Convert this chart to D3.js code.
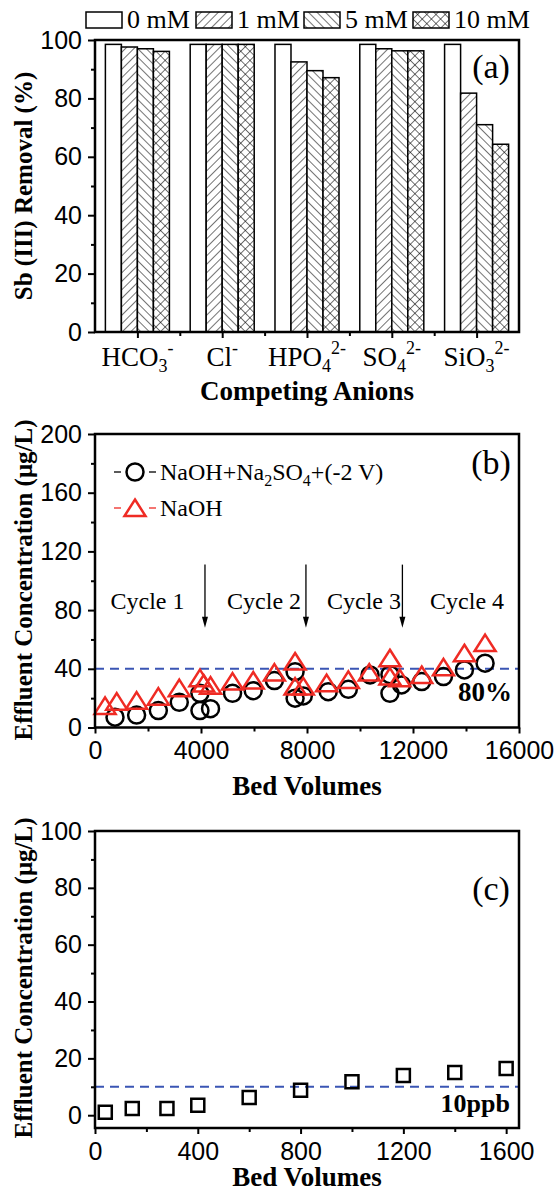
<!DOCTYPE html>
<html>
<head>
<meta charset="utf-8">
<script src="https://cdnjs.cloudflare.com/ajax/libs/d3/7.8.5/d3.min.js"></script>
<style>
body { margin: 0; background: #fff; }
svg { display: block; font-family: "Liberation Serif", "Times New Roman", serif; }
.tick text { font-size: 25px; fill: #000; }
.tick line { stroke: #000; stroke-width: 2; }
.frame { fill: none; stroke: #000; stroke-width: 2.5; }
.axisTitle { font-weight: bold; font-size: 27px; }
.yTitle { font-weight: bold; font-size: 25px; }
</style>
</head>
<body>
<script>
(function(){

//panel (a) - Sb(III) removal with competing anions
var anions = ["HCO3-", "Cl-", "HPO42-", "SO42-", "SiO32-"];
var anionBase = ["HCO", "Cl", "HPO", "SO", "SiO"];
var anionSub = ["3", "", "4", "4", "3"];
var anionSup = ["-", "-", "2-", "2-", "2-"];
var concLabels = ["0 mM", "1 mM", "5 mM", "10 mM"];
var removal0 = [98.5, 98.5, 98.5, 98.5, 98.5];
var removal1 = [97.6, 98.5, 92.5, 97.0, 81.8];
var removal5 = [97.0, 98.5, 89.5, 96.3, 71.0];
var removal10 = [96.1, 98.5, 87.1, 96.3, 64.3];
var removalTicks = [0, 20, 40, 60, 80, 100];

//panel (b) - regeneration cycles
var bvCircle = [755, 1570, 2390, 3180, 3960, 3960, 4360, 5190, 5970, 6770, 7550, 7550, 7860, 8800, 9560, 10380, 11130, 11130, 11570, 12330, 13150, 13940, 14720];
var concCircle = [7.0, 8.5, 11.5, 17.2, 23.3, 11.5, 12.8, 23.3, 25.1, 32.0, 38.0, 20.0, 21.5, 24.4, 26.0, 35.8, 36.0, 23.3, 29.0, 31.3, 34.7, 39.2, 43.8];
var bvTriangle = [380, 820, 1570, 2390, 3180, 3960, 4100, 4360, 5190, 5970, 6770, 7550, 7550, 7860, 8740, 9560, 10350, 11130, 11130, 11500, 12330, 13150, 13940, 14720];
var concTriangle = [14.7, 17.6, 18.3, 21.0, 26.8, 33.6, 30.0, 28.5, 31.3, 32.0, 37.4, 45.0, 27.9, 28.0, 30.2, 32.4, 37.4, 47.2, 34.7, 33.6, 35.8, 41.0, 50.6, 57.5];
var cycleLabels = ["Cycle 1", "Cycle 2", "Cycle 3", "Cycle 4"];
var cycleLabelBV = [1980, 6380, 10150, 14040];
var cycleArrowBV = [4150, 7960, 11600];
var bTicksX = [0, 4000, 8000, 12000, 16000];
var bTicksY = [0, 40, 80, 120, 160, 200];

//panel (c) - single run
var bvSquare = [40, 145, 280, 400, 600, 800, 1000, 1200, 1400, 1600];
var concSquare = [1.0, 2.4, 2.4, 3.5, 6.2, 8.8, 11.8, 14.0, 15.0, 16.4];
var cTicksX = [0, 400, 800, 1200, 1600];
var cTicksY = [0, 20, 40, 60, 80, 100];

var width = 555, height = 1192;
var left = 95, right = 519;
var red = "#ef2b24", blue = "#3a55b4";
var fills = ["#fff", "url(#hatchR)", "url(#hatchL)", "url(#hatchX)"];

var circleSym = d3.symbol().type(d3.symbolCircle).size(Math.PI * 8.5 * 8.5);
var triangleSym = d3.symbol().type({
    draw: function(ctx){
        ctx.moveTo(0, -8.5);
        ctx.lineTo(10.5, 8);
        ctx.lineTo(-10.5, 8);
        ctx.closePath();
    }
});

var svg = d3.select("body")
    .append("svg")
    .attr("width", width)
    .attr("height", height);

function makePatterns(svg){
    var defs = svg.append("defs");
    //single hatch, rotated one way or the other
    [["hatchR", 45], ["hatchL", -45]].forEach(function(p){
        var pt = defs.append("pattern")
            .attr("id", p[0])
            .attr("patternUnits", "userSpaceOnUse")
            .attr("width", 6).attr("height", 6)
            .attr("patternTransform", "rotate(" + p[1] + ")");
        pt.append("rect").attr("width", 6).attr("height", 6).attr("fill", "#fff");
        pt.append("line").attr("x1", 0).attr("y1", 0).attr("x2", 0).attr("y2", 6)
            .attr("stroke", "#000").attr("stroke-width", 1.1);
    });
    var cross = defs.append("pattern")
        .attr("id", "hatchX")
        .attr("patternUnits", "userSpaceOnUse")
        .attr("width", 6.5).attr("height", 6.5)
        .attr("patternTransform", "rotate(45)");
    cross.append("rect").attr("width", 6.5).attr("height", 6.5).attr("fill", "#fff");
    cross.append("line").attr("x1", 0).attr("y1", 0).attr("x2", 0).attr("y2", 6.5)
        .attr("stroke", "#000").attr("stroke-width", 1.1);
    cross.append("line").attr("x1", 0).attr("y1", 0).attr("x2", 6.5).attr("y2", 0)
        .attr("stroke", "#000").attr("stroke-width", 1.1);
}

//ticks: major with labels, minor without
function yAxis(y, major, minor){
    svg.append("g")
        .attr("transform", "translate(" + left + ",0)")
        .call(d3.axisLeft(y).tickValues(minor).tickSize(4).tickFormat(""))
        .call(function(g){ g.select(".domain").remove(); });
    svg.append("g")
        .attr("transform", "translate(" + left + ",0)")
        .call(d3.axisLeft(y).tickValues(major).tickSize(7).tickPadding(6))
        .call(function(g){ g.select(".domain").remove(); });
}

function xAxis(x, yPos, major, minor, fmt){
    svg.append("g")
        .attr("transform", "translate(0," + yPos + ")")
        .call(d3.axisBottom(x).tickValues(minor).tickSize(4).tickFormat(""))
        .call(function(g){ g.select(".domain").remove(); });
    svg.append("g")
        .attr("transform", "translate(0," + yPos + ")")
        .call(d3.axisBottom(x).tickValues(major).tickSize(6).tickPadding(8).tickFormat(fmt))
        .call(function(g){ g.select(".domain").remove(); });
}

function frame(top, bottom){
    svg.append("rect")
        .attr("class", "frame")
        .attr("x", left).attr("y", top)
        .attr("width", right - left).attr("height", bottom - top);
}

function yTitle(text, cy){
    svg.append("text")
        .attr("class", "yTitle")
        .attr("transform", "translate(32," + cy + ") rotate(-90)")
        .attr("text-anchor", "middle")
        .text(text);
}

function panelLabel(text, y){
    svg.append("text")
        .attr("x", 491).attr("y", y)
        .attr("text-anchor", "middle")
        .style("font-size", "34px")
        .text(text);
}

function panelA(){
    var top = 40, bottom = 332;
    var y = d3.scaleLinear().domain([0, 100]).range([bottom, top]);
    var x0 = d3.scaleBand().domain(anions).range([left, right])
        .paddingInner(0.245).paddingOuter(0.1225);
    var x1 = d3.scaleBand().domain(concLabels).range([0, x0.bandwidth()]);
    var series = [removal0, removal1, removal5, removal10];

    var groups = svg.selectAll(".group")
        .data(anions)
        .enter()
        .append("g")
        .attr("class", "group")
        .attr("transform", function(d){ return "translate(" + x0(d) + ",0)"; });

    groups.selectAll("rect")
        .data(function(d, i){
            return series.map(function(s, j){ return {conc: concLabels[j], value: s[i], k: j}; });
        })
        .enter()
        .append("rect")
        .attr("x", function(d){ return x1(d.conc); })
        .attr("width", x1.bandwidth())
        .attr("y", function(d){ return y(d.value); })
        .attr("height", function(d){ return bottom - y(d.value); })
        .attr("fill", function(d){ return fills[d.k]; })
        .attr("stroke", "#000")
        .attr("stroke-width", 1.5);

    frame(top, bottom);
    yAxis(y, removalTicks, [10, 30, 50, 70, 90]);

    //x ticks at category centres, minor ticks between categories
    var xc = d3.scaleLinear().domain([0.5, anions.length + 0.5]).range([left, right]);
    xAxis(xc, bottom, [1, 2, 3, 4, 5], [1.5, 2.5, 3.5, 4.5], function(){ return ""; });

    var labels = svg.selectAll(".anion")
        .data(anions)
        .enter()
        .append("text")
        .attr("class", "anion")
        .attr("x", function(d){ return x0(d) + x0.bandwidth() / 2; })
        .attr("y", 366)
        .attr("text-anchor", "middle")
        .style("font-size", "27px");
    labels.append("tspan").text(function(d, i){ return anionBase[i]; });
    labels.append("tspan")
        .attr("dy", 6).style("font-size", "18px")
        .text(function(d, i){ return anionSub[i]; });
    labels.append("tspan")
        .attr("dy", function(d, i){ return anionSub[i] ? -18 : -12; })
        .style("font-size", "18px")
        .text(function(d, i){ return anionSup[i]; });

    svg.append("text")
        .attr("class", "axisTitle")
        .attr("x", (left + right) / 2)
        .attr("y", 400)
        .attr("text-anchor", "middle")
        .text("Competing Anions");
    yTitle("Sb (III) Removal (%)", 186);

    //legend above the frame
    var legendX = [86, 196, 304, 413];
    var legend = svg.selectAll(".legA")
        .data(concLabels)
        .enter()
        .append("g")
        .attr("class", "legA")
        .attr("transform", function(d, i){ return "translate(" + legendX[i] + ",0)"; });
    legend.append("rect")
        .attr("x", 0).attr("y", 12)
        .attr("width", 36).attr("height", 16)
        .attr("fill", function(d, i){ return fills[i]; })
        .attr("stroke", "#000").attr("stroke-width", 1.5);
    legend.append("text")
        .attr("x", 41).attr("y", 28)
        .style("font-size", "26px")
        .text(function(d){ return d; });

    panelLabel("(a)", 78);
}

function panelB(){
    var top = 434, bottom = 727.5;
    var x = d3.scaleLinear().domain([0, 16000]).range([left, right]);
    var y = d3.scaleLinear().domain([0, 200]).range([bottom, top]);

    //80% breakthrough line
    svg.append("line")
        .attr("x1", left).attr("x2", right)
        .attr("y1", y(40)).attr("y2", y(40))
        .attr("stroke", blue).attr("stroke-width", 2)
        .attr("stroke-dasharray", "9,6");

    svg.selectAll(".circ")
        .data(bvCircle)
        .enter()
        .append("path")
        .attr("class", "circ")
        .attr("d", circleSym)
        .attr("transform", function(d, i){ return "translate(" + x(d) + "," + y(concCircle[i]) + ")"; })
        .attr("fill", "none").attr("stroke", "#000").attr("stroke-width", 2.5);

    svg.selectAll(".tri")
        .data(bvTriangle)
        .enter()
        .append("path")
        .attr("class", "tri")
        .attr("d", triangleSym)
        .attr("transform", function(d, i){ return "translate(" + x(d) + "," + y(concTriangle[i]) + ")"; })
        .attr("fill", "none").attr("stroke", red).attr("stroke-width", 2.5);

    frame(top, bottom);
    yAxis(y, bTicksY, [20, 60, 100, 140, 180]);
    xAxis(x, bottom, bTicksX, [2000, 6000, 10000, 14000], d3.format("d"));

    //cycle arrows and labels
    svg.selectAll(".arrow")
        .data(cycleArrowBV)
        .enter()
        .append("line")
        .attr("x1", function(d){ return x(d); }).attr("x2", function(d){ return x(d); })
        .attr("y1", y(111)).attr("y2", y(72))
        .attr("stroke", "#000").attr("stroke-width", 1.3);
    svg.selectAll(".head")
        .data(cycleArrowBV)
        .enter()
        .append("path")
        .attr("d", function(d){
            var px = x(d), py = y(68);
            return "M" + px + "," + py + "L" + (px - 3) + "," + (py - 11) + "L" + (px + 3) + "," + (py - 11) + "Z";
        })
        .attr("fill", "#000");
    svg.selectAll(".cycle")
        .data(cycleLabels)
        .enter()
        .append("text")
        .attr("x", function(d, i){ return x(cycleLabelBV[i]); })
        .attr("y", y(80.5))
        .attr("text-anchor", "middle")
        .style("font-size", "24px")
        .text(function(d){ return d; });

    svg.append("text")
        .attr("x", 512).attr("y", 701)
        .attr("text-anchor", "end")
        .style("font-size", "27px").style("font-weight", "bold")
        .text("80%");

    //legend
    var leg = [{sym: circleSym, color: "#000", y: 472},
               {sym: triangleSym, color: red, y: 508}];
    leg.forEach(function(l){
        svg.append("line").attr("x1", 114).attr("x2", 121).attr("y1", l.y).attr("y2", l.y)
            .attr("stroke", l.color).attr("stroke-width", 1.3);
        svg.append("line").attr("x1", 149).attr("x2", 156).attr("y1", l.y).attr("y2", l.y)
            .attr("stroke", l.color).attr("stroke-width", 1.3);
        svg.append("path").attr("d", l.sym)
            .attr("transform", "translate(135," + l.y + ")")
            .attr("fill", "none").attr("stroke", l.color).attr("stroke-width", 2.5);
    });
    var t1 = svg.append("text").attr("x", 160).attr("y", 480).style("font-size", "24px");
    t1.append("tspan").text("NaOH+Na");
    t1.append("tspan").attr("dy", 6).style("font-size", "16px").text("2");
    t1.append("tspan").attr("dy", -6).text("SO");
    t1.append("tspan").attr("dy", 6).style("font-size", "16px").text("4");
    t1.append("tspan").attr("dy", -6).text("+(-2 V)");
    svg.append("text").attr("x", 160).attr("y", 516).style("font-size", "24px").text("NaOH");

    panelLabel("(b)", 474);

    svg.append("text")
        .attr("class", "axisTitle")
        .attr("x", (left + right) / 2)
        .attr("y", 795)
        .attr("text-anchor", "middle")
        .text("Bed Volumes");
    yTitle("Effluent Concentration (\u03bcg/L)", 580);
}

function panelC(){
    var top = 831, bottom = 1128;
    var x = d3.scaleLinear().domain([0, 1650]).range([left, right]);
    var y = d3.scaleLinear().domain([-4.5, 100]).range([bottom, top]);

    //10 ppb limit
    svg.append("line")
        .attr("x1", left).attr("x2", right)
        .attr("y1", y(10)).attr("y2", y(10))
        .attr("stroke", blue).attr("stroke-width", 2)
        .attr("stroke-dasharray", "9,6");

    svg.selectAll(".sq")
        .data(bvSquare)
        .enter()
        .append("path")
        .attr("class", "sq")
        .attr("d", d3.symbol().type(d3.symbolSquare).size(13 * 13))
        .attr("transform", function(d, i){ return "translate(" + x(d) + "," + y(concSquare[i]) + ")"; })
        .attr("fill", "none").attr("stroke", "#000").attr("stroke-width", 2.5);

    frame(top, bottom);
    yAxis(y, cTicksY, [10, 30, 50, 70, 90]);
    xAxis(x, bottom, cTicksX, [200, 600, 1000, 1400], d3.format("d"));

    svg.append("text")
        .attr("x", 510).attr("y", 1112)
        .attr("text-anchor", "end")
        .style("font-size", "26px").style("font-weight", "bold")
        .text("10ppb");

    panelLabel("(c)", 900);

    svg.append("text")
        .attr("class", "axisTitle")
        .attr("x", (left + right) / 2)
        .attr("y", 1186)
        .attr("text-anchor", "middle")
        .text("Bed Volumes");
    yTitle("Effluent Concentration (\u03bcg/L)", 978);
}

makePatterns(svg);
panelA();
panelB();
panelC();

})();
</script>
</body>
</html>
